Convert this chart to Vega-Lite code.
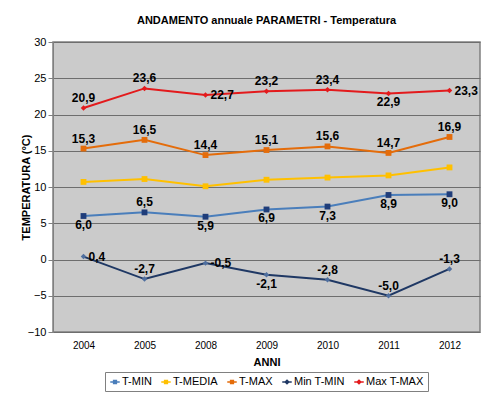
{
  "$schema": "https://vega.github.io/schema/vega-lite/v6.json",
  "width": 427,
  "height": 290,
  "autosize": {"type": "none"},
  "padding": {"left": 53, "top": 42, "right": 11, "bottom": 65},
  "background": "white",
  "title": {
    "text": "ANDAMENTO annuale PARAMETRI - Temperatura",
    "font": "Liberation Sans",
    "fontSize": 11,
    "fontWeight": "bold",
    "color": "black",
    "anchor": "middle",
    "offset": 10
  },
  "config": {
    "font": "Liberation Sans",
    "view": {"fill": "#cbcbcb", "stroke": "#808080", "strokeWidth": 1.5},
    "legend": {"layout": {"bottom": {"anchor": "middle"}}}
  },
  "data": {
    "values": [
      {"anno": "2004", "serie": "T-MIN", "v": 6.0},
      {"anno": "2005", "serie": "T-MIN", "v": 6.5},
      {"anno": "2008", "serie": "T-MIN", "v": 5.9},
      {"anno": "2009", "serie": "T-MIN", "v": 6.9},
      {"anno": "2010", "serie": "T-MIN", "v": 7.3},
      {"anno": "2011", "serie": "T-MIN", "v": 8.9},
      {"anno": "2012", "serie": "T-MIN", "v": 9.0},
      {"anno": "2004", "serie": "T-MEDIA", "v": 10.7},
      {"anno": "2005", "serie": "T-MEDIA", "v": 11.1},
      {"anno": "2008", "serie": "T-MEDIA", "v": 10.1},
      {"anno": "2009", "serie": "T-MEDIA", "v": 11.0},
      {"anno": "2010", "serie": "T-MEDIA", "v": 11.3},
      {"anno": "2011", "serie": "T-MEDIA", "v": 11.6},
      {"anno": "2012", "serie": "T-MEDIA", "v": 12.7},
      {"anno": "2004", "serie": "T-MAX", "v": 15.3},
      {"anno": "2005", "serie": "T-MAX", "v": 16.5},
      {"anno": "2008", "serie": "T-MAX", "v": 14.4},
      {"anno": "2009", "serie": "T-MAX", "v": 15.1},
      {"anno": "2010", "serie": "T-MAX", "v": 15.6},
      {"anno": "2011", "serie": "T-MAX", "v": 14.7},
      {"anno": "2012", "serie": "T-MAX", "v": 16.9},
      {"anno": "2004", "serie": "Min T-MIN", "v": 0.4},
      {"anno": "2005", "serie": "Min T-MIN", "v": -2.7},
      {"anno": "2008", "serie": "Min T-MIN", "v": -0.5},
      {"anno": "2009", "serie": "Min T-MIN", "v": -2.1},
      {"anno": "2010", "serie": "Min T-MIN", "v": -2.8},
      {"anno": "2011", "serie": "Min T-MIN", "v": -5.0},
      {"anno": "2012", "serie": "Min T-MIN", "v": -1.3},
      {"anno": "2004", "serie": "Max T-MAX", "v": 20.9},
      {"anno": "2005", "serie": "Max T-MAX", "v": 23.6},
      {"anno": "2008", "serie": "Max T-MAX", "v": 22.7},
      {"anno": "2009", "serie": "Max T-MAX", "v": 23.2},
      {"anno": "2010", "serie": "Max T-MAX", "v": 23.4},
      {"anno": "2011", "serie": "Max T-MAX", "v": 22.9},
      {"anno": "2012", "serie": "Max T-MAX", "v": 23.3}
    ]
  },
  "transform": [
    {"calculate": "datum.serie + '|' + datum.anno", "as": "key"},
    {"calculate": "(datum.v < 0 ? '-' : '') + replace(format(abs(datum.v), '.1f'), '.', ',')", "as": "lbl"}
  ],
  "encoding": {
    "x": {
      "field": "anno",
      "type": "ordinal",
      "scale": {"type": "point", "padding": 0.5},
      "axis": {
        "title": "ANNI",
        "titleFont": "Liberation Sans",
        "titleFontSize": 11,
        "titleFontWeight": "bold",
        "titleColor": "black",
        "titlePadding": 6,
        "labelAngle": 0,
        "labelFont": "Liberation Sans",
        "labelFontSize": 10,
        "labelColor": "black",
        "labelPadding": 8,
        "ticks": false,
        "domain": false,
        "grid": false
      }
    },
    "y": {
      "field": "v",
      "type": "quantitative",
      "scale": {"domain": [-10, 30], "nice": false, "zero": false},
      "axis": {
        "title": "TEMPERATURA (°C)",
        "titleFont": "Liberation Sans",
        "titleFontSize": 11,
        "titleFontWeight": "bold",
        "titleColor": "black",
        "titlePadding": -4,
        "values": [-10, -5, 0, 5, 10, 15, 20, 25, 30],
        "labelFont": "Liberation Sans",
        "labelFontSize": 11,
        "labelColor": "black",
        "tickSize": 5,
        "tickColor": "#808080",
        "domainColor": "#808080",
        "grid": true,
        "gridColor": "#6e6e6e",
        "gridWidth": 1
      }
    },
    "color": {
      "field": "serie",
      "type": "nominal",
      "scale": {
        "domain": ["T-MIN", "T-MEDIA", "T-MAX", "Min T-MIN", "Max T-MAX"],
        "range": ["#4a7ebb", "#ffc000", "#e46c0a", "#1f3864", "#e31a1c"]
      },
      "legend": {
        "title": null,
        "orient": "bottom",
        "direction": "horizontal",
        "offset": 5,
        "padding": 4,
        "strokeColor": "#808080",
        "fillColor": "white",
        "labelFont": "Liberation Sans",
        "labelFontSize": 11,
        "labelColor": "black",
        "symbolSize": 90,
        "symbolStrokeWidth": 1.6,
        "columnPadding": 6,
        "labelOffset": 1,
        "encode": {
          "symbols": {
            "update": {
              "shape": {"signal": "datum.value == 'Min T-MIN' || datum.value == 'Max T-MAX' ? 'M-1,0H1M0,-0.35L0.35,0L0,0.35L-0.35,0Z' : 'M-1,0H1M-0.28,-0.28H0.28V0.28H-0.28Z'"},
              "fill": {"scale": "fill", "field": "value"},
              "stroke": {"scale": "color", "field": "value"}
            }
          }
        }
      }
    }
  },
  "layer": [
    {
      "mark": {"type": "line", "strokeWidth": 2}
    },
    {
      "transform": [{"filter": "datum.serie == 'T-MIN' || datum.serie == 'T-MEDIA' || datum.serie == 'T-MAX'"}],
      "mark": {"type": "point", "filled": true, "opacity": 1, "shape": "square", "size": 34},
      "encoding": {
        "color": {"value": null},
        "fill": {
          "field": "serie",
          "type": "nominal",
          "scale": {
            "domain": ["T-MIN", "T-MEDIA", "T-MAX", "Min T-MIN", "Max T-MAX"],
            "range": ["#1f3d7a", "#ffc000", "#e46c0a", "#4f6f9f", "#e31a1c"]
          },
          "legend": null
        }
      }
    },
    {
      "transform": [{"filter": "datum.serie == 'Min T-MIN' || datum.serie == 'Max T-MAX'"}],
      "mark": {"type": "point", "filled": true, "opacity": 1, "shape": "diamond", "size": 30},
      "encoding": {
        "color": {"value": null},
        "fill": {
          "field": "serie",
          "type": "nominal",
          "legend": null
        }
      }
    },
    {
      "transform": [
        {"filter": "indexof(['T-MAX|2004','T-MAX|2005','T-MAX|2008','T-MAX|2009','T-MAX|2010','T-MAX|2011','T-MAX|2012','Max T-MAX|2004','Max T-MAX|2005','Max T-MAX|2009','Max T-MAX|2010','T-MIN|2005','Min T-MIN|2005','Min T-MIN|2010','Min T-MIN|2011','Min T-MIN|2012'], datum.key) >= 0"}
      ],
      "mark": {"type": "text", "font": "Liberation Sans", "fontSize": 12, "fontWeight": "bold", "baseline": "bottom", "dy": -3},
      "encoding": {"text": {"field": "lbl"}, "color": {"value": "black"}}
    },
    {
      "transform": [
        {"filter": "indexof(['Max T-MAX|2011','T-MIN|2004','T-MIN|2008','T-MIN|2009','T-MIN|2010','T-MIN|2011','T-MIN|2012','Min T-MIN|2009'], datum.key) >= 0"}
      ],
      "mark": {"type": "text", "font": "Liberation Sans", "fontSize": 12, "fontWeight": "bold", "baseline": "top", "dy": 4},
      "encoding": {"text": {"field": "lbl"}, "color": {"value": "black"}}
    },
    {
      "transform": [
        {"filter": "indexof(['Max T-MAX|2008','Max T-MAX|2012','Min T-MIN|2004','Min T-MIN|2008'], datum.key) >= 0"}
      ],
      "mark": {"type": "text", "font": "Liberation Sans", "fontSize": 12, "fontWeight": "bold", "align": "left", "baseline": "middle", "dx": 5},
      "encoding": {"text": {"field": "lbl"}, "color": {"value": "black"}}
    }
  ]
}
